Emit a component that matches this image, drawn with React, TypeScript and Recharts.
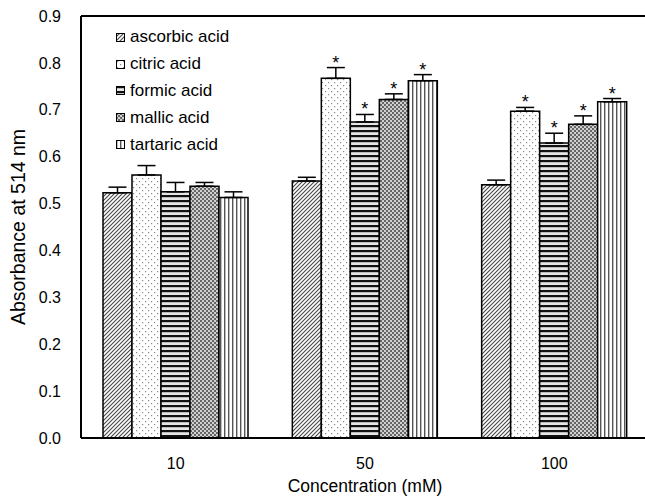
import { BarChart, Bar, XAxis, YAxis, ErrorBar, LabelList, Legend, ReferenceLine } from 'recharts';

const concentrations = ['10', '50', '100'];

const ascorbic = [0.523, 0.548, 0.540];
const citric = [0.561, 0.767, 0.697];
const formic = [0.525, 0.674, 0.629];
const mallic = [0.537, 0.722, 0.669];
const tartaric = [0.513, 0.762, 0.717];

const ascorbicErr = [0.012, 0.008, 0.010];
const citricErr = [0.020, 0.023, 0.008];
const formicErr = [0.020, 0.016, 0.021];
const mallicErr = [0.008, 0.012, 0.018];
const tartaricErr = [0.012, 0.013, 0.007];

// significance marks (*) per concentration
const ascorbicSig = [false, false, false];
const citricSig = [false, true, true];
const formicSig = [false, true, true];
const mallicSig = [false, true, true];
const tartaricSig = [false, true, true];

const yTicks = [0, 0.1, 0.2, 0.3, 0.4, 0.5, 0.6, 0.7, 0.8, 0.9];

const series = [
  { key: 'ascorbic', name: 'ascorbic acid', values: ascorbic, err: ascorbicErr, sig: ascorbicSig, fill: 'url(#pAsc)' },
  { key: 'citric', name: 'citric acid', values: citric, err: citricErr, sig: citricSig, fill: 'url(#pCit)' },
  { key: 'formic', name: 'formic acid', values: formic, err: formicErr, sig: formicSig, fill: 'url(#pFor)' },
  { key: 'mallic', name: 'mallic acid', values: mallic, err: mallicErr, sig: mallicSig, fill: 'url(#pMal)' },
  { key: 'tartaric', name: 'tartaric acid', values: tartaric, err: tartaricErr, sig: tartaricSig, fill: 'url(#pTar)' },
];

const data = concentrations.map((c, i) => {
  const row: any = { conc: c };
  series.forEach((s) => {
    row[s.key] = s.values[i];
    row[s.key + 'Err'] = [0, s.err[i]];
  });
  return row;
});

const font = '"Liberation Sans", Arial, sans-serif';

function starLabel(s: typeof series[number]) {
  return (props: any) => {
    const { x, y, width, height, value, index } = props;
    if (!s.sig[index]) return null;
    const errPx = (s.err[index] * height) / value;
    return (
      <text x={x + width / 2} y={y - errPx + 1} textAnchor="middle" fontSize={18} fontFamily={font} fill="#000">
        *
      </text>
    );
  };
}

function renderLegend() {
  return (
    <div style={{ fontFamily: font, fontSize: 17, color: '#000' }}>
      {series.map((s) => (
        <div key={s.key} style={{ display: 'flex', alignItems: 'center', height: 26.8 }}>
          <svg width={9} height={9} style={{ marginRight: 5 }}>
            <rect x={0.5} y={0.5} width={8} height={8} fill={s.fill} stroke="#000" strokeWidth={1} />
          </svg>
          <span>{s.name}</span>
        </div>
      ))}
    </div>
  );
}

export default function App() {
  return (
    <div style={{ position: 'absolute', left: 0, top: 0, width: 645, height: 497, overflow: 'hidden', background: '#fff' }}>
      <BarChart
        width={649}
        height={497}
        data={data}
        margin={{ top: 16, right: 0, left: 0, bottom: 0 }}
        barGap={0}
        barSize={29}
      >
        <defs>
          <pattern id="pAsc" patternUnits="userSpaceOnUse" width={4} height={4}>
            <rect width={4} height={4} fill="#fff" />
            <path d="M-1,1 l2,-2 M0,4 l4,-4 M3,5 l2,-2" stroke="#444" strokeWidth={1.1} />
          </pattern>
          <pattern id="pCit" patternUnits="userSpaceOnUse" width={6} height={6}>
            <rect width={6} height={6} fill="#fff" />
            <rect x={1} y={1} width={1.2} height={1.2} fill="#888" />
            <rect x={4} y={4} width={1.2} height={1.2} fill="#888" />
          </pattern>
          <pattern id="pFor" patternUnits="userSpaceOnUse" width={5} height={5}>
            <rect width={5} height={5} fill="#e6e6e6" />
            <rect y={0} width={5} height={2.2} fill="#111" />
          </pattern>
          <pattern id="pMal" patternUnits="userSpaceOnUse" width={4} height={4}>
            <rect width={4} height={4} fill="#d0d0d0" />
            <rect x={0} y={0} width={2} height={2} fill="#666" />
            <rect x={2} y={2} width={2} height={2} fill="#666" />
          </pattern>
          <pattern id="pTar" patternUnits="userSpaceOnUse" width={4} height={4}>
            <rect width={4} height={4} fill="#fff" />
            <rect x={0} width={1.4} height={4} fill="#555" />
          </pattern>
        </defs>
        <XAxis
          dataKey="conc"
          height={59}
          stroke="#000"
          strokeWidth={2}
          tickLine={false}
          tickSize={0}
          tickMargin={20}
          tick={{ fill: '#000', fontSize: 16, fontFamily: font }}
          label={{ value: 'Concentration (mM)', position: 'insideBottom', offset: 5, fill: '#000', fontSize: 17.5, fontFamily: font }}
        />
        <YAxis
          width={81}
          domain={[0, 0.9]}
          ticks={yTicks}
          tickFormatter={(v: number) => v.toFixed(1)}
          stroke="#000"
          strokeWidth={2}
          tickLine={false}
          tickSize={0}
          tickMargin={20}
          tick={{ fill: '#000', fontSize: 16, fontFamily: font }}
          label={{
            value: 'Absorbance at 514 nm',
            angle: -90,
            position: 'insideLeft',
            offset: 18,
            fill: '#000',
            fontSize: 19.5,
            fontFamily: font,
            style: { textAnchor: 'middle' },
          }}
        />
        <ReferenceLine y={0.9} stroke="#000" strokeWidth={2} />
        <Legend
          layout="vertical"
          align="center"
          verticalAlign="middle"
          content={renderLegend}
          wrapperStyle={{ left: 116, top: 24, width: 160, height: 140 }}
        />
        {series.map((s) => (
          <Bar
            key={s.key}
            dataKey={s.key}
            name={s.name}
            fill={s.fill}
            stroke="#000"
            strokeWidth={1.5}
            isAnimationActive={false}
          >
            <ErrorBar dataKey={s.key + 'Err'} width={9} stroke="#000" strokeWidth={1.5} />
            <LabelList dataKey={s.key} content={starLabel(s)} />
          </Bar>
        ))}
      </BarChart>
    </div>
  );
}
